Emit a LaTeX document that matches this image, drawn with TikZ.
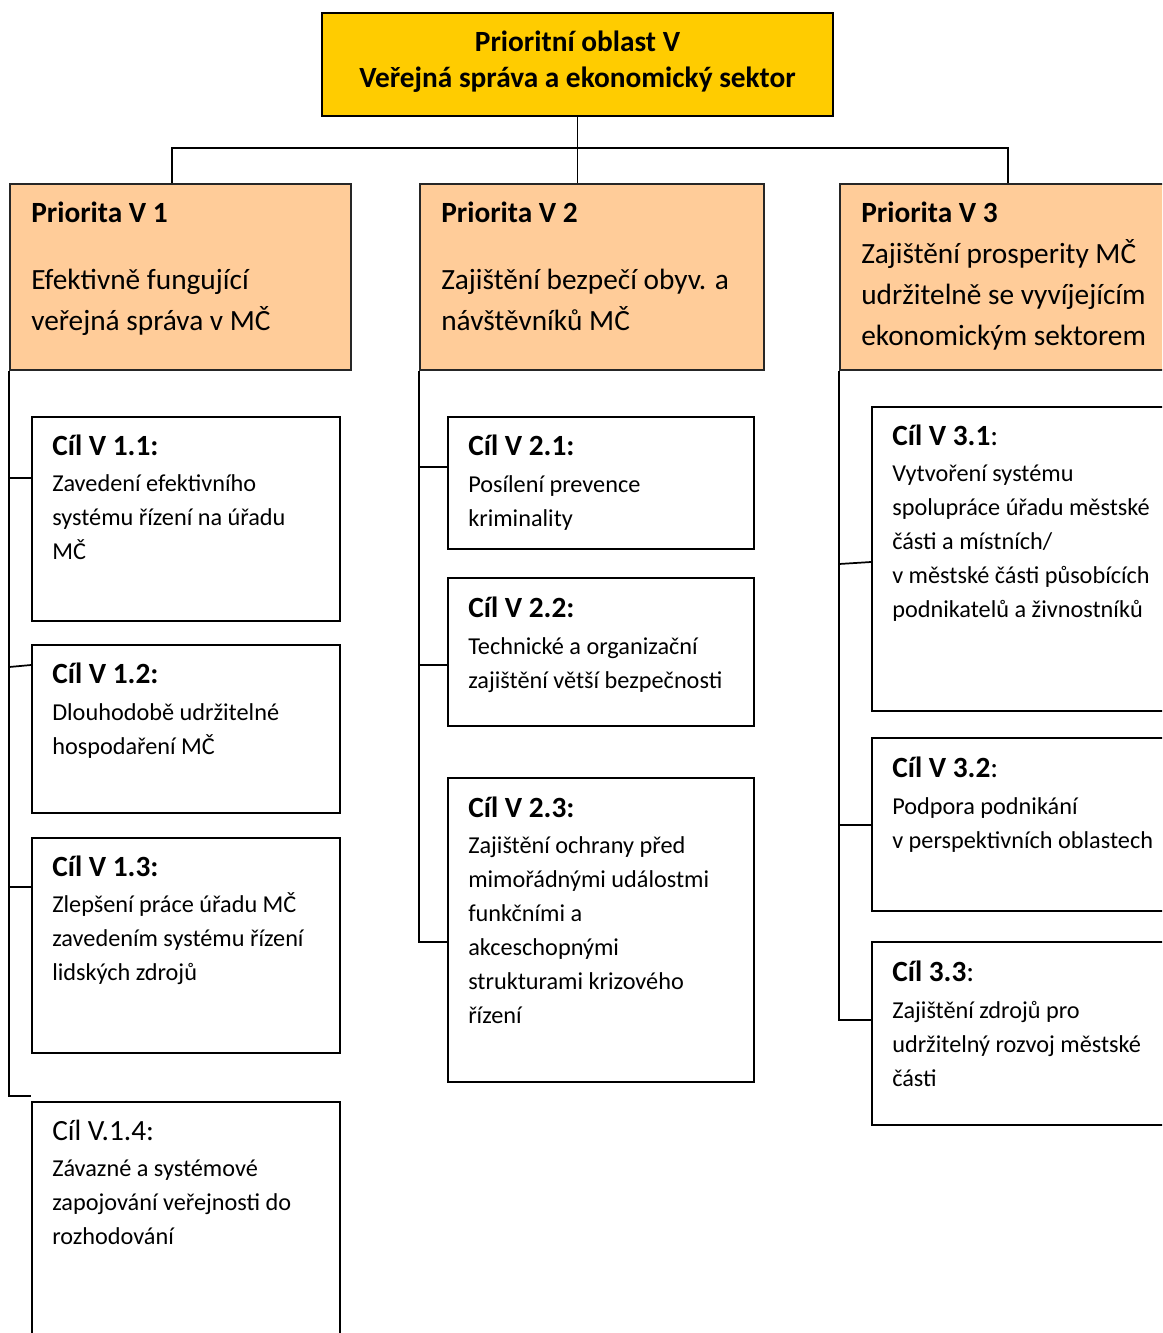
\documentclass[tikz,border=0pt]{standalone}
\usepackage{fontspec}
\setmainfont{Carlito}
\usetikzlibrary{fit}
\definecolor{topfill}{HTML}{FFCC00}
\definecolor{prifill}{HTML}{FFCC99}
\begin{document}
\begin{tikzpicture}[x=0.75pt,y=-0.75pt,
  topbox/.style={draw=black,line width=1.5pt,fill=topfill,inner sep=0pt},
  pribox/.style={draw=black!85,line width=1.2pt,fill=prifill,inner sep=0pt},
  cilbox/.style={draw=black,line width=1.4pt,inner sep=0pt},
  conn/.style={line width=1.3pt},
  prihead/.style={anchor=base west,inner sep=0pt,font=\fontsize{22pt}{30.75pt}\selectfont\bfseries},
  pritext/.style={anchor=base west,inner sep=0pt,align=left,font=\fontsize{22pt}{30.75pt}\selectfont},
  cilhead/.style={anchor=base west,inner sep=0pt,font=\fontsize{22pt}{26pt}\selectfont},
  ciltext/.style={anchor=base west,inner sep=0pt,align=left,font=\fontsize{18.2pt}{25.5pt}\selectfont}]
  \useasboundingbox (0,0) rectangle (1162,1333);
  \clip (0,0) rectangle (1162,1333);
  % boxes
  \node[topbox,fit={(322,13) (833,116)}] (top) {};
  \node[pribox,fit={(10,184) (351,370)}] (p1) {};
  \node[pribox,fit={(420,184) (764,370)}] (p2) {};
  \node[pribox,fit={(840,184) (1175,370)}] (p3) {};
  \node[cilbox,fit={(32,417) (340,621)}] (c11) {};
  \node[cilbox,fit={(32,645) (340,813)}] (c12) {};
  \node[cilbox,fit={(32,838) (340,1053)}] (c13) {};
  \node[cilbox,fit={(32,1102) (340,1345)}] (c14) {};
  \node[cilbox,fit={(448,417) (754,549)}] (c21) {};
  \node[cilbox,fit={(448,578) (754,726)}] (c22) {};
  \node[cilbox,fit={(448,778) (754,1082)}] (c23) {};
  \node[cilbox,fit={(872,407) (1175,711)}] (c31) {};
  \node[cilbox,fit={(872,738) (1175,911)}] (c32) {};
  \node[cilbox,fit={(872,942) (1175,1125)}] (c33) {};
  % connectors
  \coordinate (bus) at (top.south |- 0,148);
  \draw[conn] (top.south) -- (top.south |- p2.north);
  \draw[conn] (p1.north -| 172,0) |- (bus) -| (p3.north -| 1008,0);
  \draw[conn] (p1.south west) |- ([yshift=3.75pt]c14.north west);
  \draw[conn] (p1.south west |- 0,478) -- (c11.west |- 0,478);
  \draw[conn] (p1.south west |- 0,667) -- (c12.west |- 0,665);
  \draw[conn] (p1.south west |- 0,887) -- (c13.west |- 0,887);
  \draw[conn] (p2.south west) |- (c23.west |- 0,942);
  \draw[conn] (p2.south west |- 0,467) -- (c21.west |- 0,467);
  \draw[conn] (p2.south west |- 0,665) -- (c22.west |- 0,665);
  \draw[conn] (p3.south west) |- (c33.west |- 0,1020);
  \draw[conn] (p3.south west |- 0,564) -- (c31.west |- 0,562);
  \draw[conn] (p3.south west |- 0,825) -- (c32.west |- 0,825);
  % texts
  \node[anchor=base,inner sep=0pt,align=center,font=\fontsize{22pt}{27pt}\selectfont\bfseries] (ttop) at (577.5,88)
    {Prioritní oblast V\\Veřejná správa a ekonomický sektor};
  \node[prihead] (hp1) at (31,223) {Priorita V 1};
  \node[pritext] (tp1) at (31,331) {Efektivně fungující\\veřejná správa v MČ};
  \node[prihead] (hp2) at (441,223) {Priorita V 2};
  \node[pritext] (tp2) at (441,331) {Zajištění bezpečí obyv. a\\návštěvníků MČ};
  \node[prihead] (hp3) at (861,223) {Priorita V 3};
  \node[pritext] (tp3) at (861,346) {Zajištění prosperity MČ\\udržitelně se vyvíjejícím\\ekonomickým sektorem};
  \node[cilhead] (h11) at (52,455) {\textbf{Cíl V 1.1:}};
  \node[ciltext] (t11) at (52,559) {Zavedení efektivního\\systému řízení na úřadu\\MČ};
  \node[cilhead] (h12) at (52,683) {\textbf{Cíl V 1.2:}};
  \node[ciltext] (t12) at (52,754) {Dlouhodobě udržitelné\\hospodaření MČ};
  \node[cilhead] (h13) at (52,876) {\textbf{Cíl V 1.3:}};
  \node[ciltext] (t13) at (52,980) {Zlepšení práce úřadu MČ\\zavedením systému řízení\\lidských zdrojů};
  \node[cilhead] (h14) at (52,1140) {Cíl V.1.4:};
  \node[ciltext] (t14) at (52,1244) {Závazné a systémové\\zapojování veřejnosti do\\rozhodování};
  \node[cilhead] (h21) at (468,455) {\textbf{Cíl V 2.1:}};
  \node[ciltext] (t21) at (468,526) {Posílení prevence\\kriminality};
  \node[cilhead] (h22) at (468,617) {\textbf{Cíl V 2.2:}};
  \node[ciltext] (t22) at (468,688) {Technické a organizační\\zajištění větší bezpečnosti};
  \node[cilhead] (h23) at (468,817) {\textbf{Cíl V 2.3:}};
  \node[ciltext] (t23) at (468,1023) {Zajištění ochrany před\\mimořádnými událostmi\\funkčními a\\akceschopnými\\strukturami krizového\\řízení};
  \node[cilhead] (h31) at (892,445) {\textbf{Cíl V 3.1}:};
  \node[ciltext] (t31) at (892,617) {Vytvoření systému\\spolupráce úřadu městské\\části a místních/\\v městské části působících\\podnikatelů a živnostníků};
  \node[cilhead] (h32) at (892,777) {\textbf{Cíl V 3.2}:};
  \node[ciltext] (t32) at (892,848) {Podpora podnikání\\v perspektivních oblastech};
  \node[cilhead] (h33) at (892,981) {\textbf{Cíl 3.3}:};
  \node[ciltext] (t33) at (892,1086) {Zajištění zdrojů pro\\udržitelný rozvoj městské\\části};
\end{tikzpicture}
\end{document}
